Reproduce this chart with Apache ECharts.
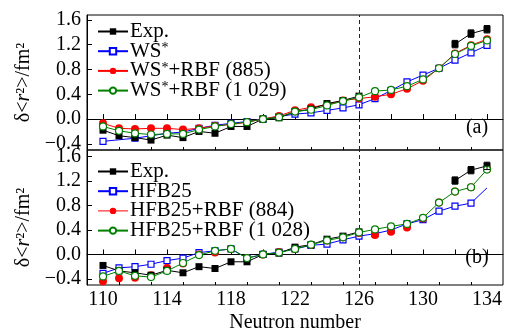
<!DOCTYPE html>
<html>
<head>
<meta charset="utf-8">
<script src="https://cdn.jsdelivr.net/npm/echarts@6/dist/echarts.min.js"></script>
<style>
  html, body { margin: 0; padding: 0; background: #fff; }
  #chart { width: 508px; height: 334px; }
</style>
</head>
<body>
<div id="chart"></div>
<script>
// neutron numbers (x)
const neutrons = [110, 111, 112, 113, 114, 115, 116, 117, 118, 119, 120, 121, 122,
  123, 124, 125, 126, 127, 128, 129, 130, 131, 132, 133, 134]

const xLabelValues = [110, 114, 118, 122, 126, 130, 134]
const xMajorTicks = [110, 112, 114, 116, 118, 120, 122, 124, 126, 128, 130, 132, 134]
const xMinorTicks = [111, 113, 115, 117, 119, 121, 123, 125, 127, 129, 131, 133]
const yTickValues = [-0.4, 0, 0.4, 0.8, 1.2, 1.6]
const shellClosure = 126

// experiment (same in both panels)
const expVals = [-0.18, -0.27, -0.30, -0.34, -0.26, -0.30, -0.20, -0.23, -0.12, -0.12, 0.00, 0.02,
  0.12, 0.16, 0.25, 0.30, 0.37, null, null, null, null, null, 1.21, 1.38, 1.45]
const expErrN = [132, 133, 134]
const expErr = [0.06, 0.06, 0.06]

// panel (a)
const wsVals = [-0.36, null, -0.31, -0.27, -0.23, -0.21, -0.15, -0.10, -0.07, -0.04, 0.00, 0.04,
  0.08, 0.10, 0.14, 0.18, 0.23, 0.33, 0.46, 0.60, 0.71, 0.82, 0.95, 1.07, 1.19]
const ws885Vals = [-0.07, -0.15, -0.16, -0.15, -0.15, -0.17, -0.15, -0.11, -0.09, -0.05, 0.00, 0.05,
  0.14, 0.19, 0.23, 0.30, 0.33, 0.36, 0.40, 0.49, 0.62, 0.82, 1.06, 1.19, 1.29]
const ws1029Vals = [-0.12, -0.19, -0.23, -0.25, -0.24, -0.24, -0.17, -0.12, -0.08, -0.05, 0.00, 0.03,
  0.12, 0.15, 0.22, 0.29, 0.35, 0.45, 0.47, 0.53, 0.64, 0.82, 1.05, 1.18, 1.27]

// panel (b)
const hfbVals = [-0.31, -0.22, -0.20, -0.16, -0.10, -0.06, 0.03, 0.06, 0.09, -0.06, 0.00, 0.04,
  0.09, 0.15, 0.17, 0.24, 0.30, 0.34, 0.40, 0.50, 0.57, 0.71, 0.79, 0.84, 1.09]
const hfb884Vals = [-0.44, -0.39, -0.38, -0.34, -0.22, -0.15, 0.00, 0.03, 0.09, -0.06, 0.00, 0.04,
  0.09, 0.16, 0.23, 0.28, 0.35, 0.32, 0.37, 0.44, 0.59, 0.85, 1.03, 1.10, 1.40]
const hfb1028Vals = [-0.36, -0.27, -0.35, -0.37, -0.27, -0.14, -0.01, 0.06, 0.09, -0.06, 0.00, 0.03,
  0.09, 0.16, 0.23, 0.28, 0.36, 0.41, 0.46, 0.50, 0.60, 0.85, 1.03, 1.10, 1.39]

const FONT = "'Liberation Serif', 'Times New Roman', serif"

const toPairs = (vals) => neutrons.map((n, i) => [n, vals[i] == null ? '-' : vals[i]])

const chart = echarts.init(document.getElementById('chart'))

const xAxisFor = (gridIndex, showLabels) => ([
  {
    type: 'value',
    gridIndex,
    min: 109,
    max: 135,
    position: 'bottom',
    axisLine: { show: true, lineStyle: { color: '#000', width: 1 } },
    axisTick: {
      show: true,
      inside: true,
      length: 5,
      customValues: xMajorTicks,
      lineStyle: { color: '#000', width: 1 },
    },
    axisLabel: {
      show: showLabels,
      customValues: xLabelValues,
      color: '#000',
      fontFamily: FONT,
      fontSize: 20,
      margin: 5,
    },
    splitLine: { show: false },
    name: showLabels ? 'Neutron number' : '',
    nameLocation: 'middle',
    nameGap: 28,
    nameTextStyle: { color: '#000', fontFamily: FONT, fontSize: 20 },
  },
  {
    type: 'value',
    gridIndex,
    min: 109,
    max: 135,
    position: 'bottom',
    axisLine: { show: false },
    axisTick: {
      show: true,
      inside: true,
      length: 3,
      customValues: xMinorTicks,
      lineStyle: { color: '#000', width: 1 },
    },
    axisLabel: { show: false },
    splitLine: { show: false },
  },
])

const yAxisFor = (gridIndex, max, namePad) => ({
  type: 'value',
  gridIndex,
  min: -0.5,
  max,
  axisLine: { show: true, lineStyle: { color: '#000', width: 1 } },
  axisTick: {
    show: true,
    inside: true,
    length: 5,
    customValues: yTickValues,
    lineStyle: { color: '#000', width: 1 },
  },
  axisLabel: {
    customValues: yTickValues,
    color: '#000',
    fontFamily: FONT,
    fontSize: 20,
    margin: 6,
    formatter: (v) => v.toFixed(1).replace('-', '\u2212'),
  },
  splitLine: { show: false },
  name: '{n|δ<}{i|r}{n|²>/fm²}',
  nameLocation: 'middle',
  nameGap: 52,
  nameTextStyle: {
    color: '#000',
    fontFamily: FONT,
    fontSize: 20,
    padding: namePad,
    rich: {
      n: { fontFamily: FONT, fontSize: 20, color: '#000' },
      i: { fontFamily: FONT, fontSize: 20, fontStyle: 'italic', color: '#000' },
    },
  },
})

const lineSeries = (name, vals, xAxisIndex, yAxisIndex, style) => ({
  name,
  type: 'line',
  xAxisIndex,
  yAxisIndex,
  data: toPairs(vals),
  symbol: style.symbol,
  symbolSize: style.size,
  showSymbol: true,
  connectNulls: !!style.connect,
  lineStyle: { color: style.color, width: 1, opacity: style.hideLine ? 0 : 1 },
  itemStyle: {
    color: style.fill,
    borderColor: style.color,
    borderWidth: style.fill === '#fff' ? 1.2 : 0,
  },
  emphasis: { disabled: true },
  animation: false,
  z: style.z || 2,
})

const dashLine = {
  silent: true,
  symbol: 'none',
  label: { show: false },
  lineStyle: { type: [4, 3], color: '#222', width: 1 },
  data: [{ xAxis: shellClosure }],
  animation: false,
}

const errorBars = (xAxisIndex, yAxisIndex) => ({
  type: 'custom',
  xAxisIndex,
  yAxisIndex,
  data: expErrN.map((n, i) => [n, expVals[neutrons.indexOf(n)], expErr[i]]),
  renderItem: (params, api) => {
    const x = api.value(0)
    const y = api.value(1)
    const e = api.value(2)
    const lo = api.coord([x, y - e])
    const hi = api.coord([x, y + e])
    const st = { stroke: '#000', lineWidth: 1 }
    return {
      type: 'group',
      children: [
        { type: 'line', shape: { x1: lo[0], y1: lo[1], x2: hi[0], y2: hi[1] }, style: st },
        { type: 'line', shape: { x1: lo[0] - 3, y1: lo[1], x2: lo[0] + 3, y2: lo[1] }, style: st },
        { type: 'line', shape: { x1: hi[0] - 3, y1: hi[1], x2: hi[0] + 3, y2: hi[1] }, style: st },
      ],
    }
  },
  z: 6,
  animation: false,
})

const supRich = {
  t: { fontFamily: FONT, fontSize: 21, color: '#000', lineHeight: 20 },
  sup: { fontFamily: FONT, fontSize: 14, color: '#000', lineHeight: 12, verticalAlign: 'top' },
}
// '*' becomes a superscript
const legendFormatter = (name) =>
  name
    .split('*')
    .map((p) => (p ? '{t|' + p + '}' : ''))
    .join('{sup|*}')

const legendFor = (top, names, hiddenLineName) => ({
  orient: 'vertical',
  left: 97,
  top,
  itemWidth: 30,
  itemHeight: 8,
  itemGap: -1.3,
  padding: 0,
  selectedMode: false,
  data: names.map((n) =>
    n === hiddenLineName ? { name: n, lineStyle: { opacity: 1, color: '#f00', width: 1 } } : n
  ),
  formatter: legendFormatter,
  textStyle: { fontFamily: FONT, fontSize: 21, color: '#000', lineHeight: 20, rich: supRich, padding: [0, 0, 0, -3] },
})

const black = { symbol: 'rect', size: 7, color: '#000', fill: '#000', z: 4 }
const blue = { symbol: 'rect', size: 6, color: '#0000ff', fill: '#fff', z: 3 }
const red = { symbol: 'circle', size: 8, color: '#ff0000', fill: '#ff0000', z: 3 }
const green = { symbol: 'circle', size: 7, color: '#008000', fill: '#fff', z: 5 }

const hfbSeries = lineSeries('HFB25', hfbVals, 2, 1, blue)
hfbSeries.data[hfbSeries.data.length - 1] = {
  value: hfbSeries.data[hfbSeries.data.length - 1],
  symbol: 'none',
}

const expA = lineSeries('Exp.', expVals, 0, 0, black)
expA.markLine = dashLine
const expB = lineSeries('Exp.', expVals, 2, 1, black)
expB.markLine = dashLine

const option = {
  backgroundColor: '#fff',
  animation: false,
  grid: [
    { left: 87, right: 5, top: 15, height: 135, show: true, borderColor: '#000', borderWidth: 1, backgroundColor: 'transparent' },
    { left: 87, right: 5, top: 150, height: 135, show: true, borderColor: '#000', borderWidth: 1, backgroundColor: 'transparent' },
  ],
  xAxis: [...xAxisFor(0, false), ...xAxisFor(1, true)],
  yAxis: [yAxisFor(0, 1.68, 0), yAxisFor(1, 1.71, [0, 20, 0, 0])],
  legend: [
    legendFor(21, ['Exp.', 'WS*', 'WS*+RBF (885)', 'WS*+RBF (1 029)']),
    legendFor(161, ['Exp.', 'HFB25', 'HFB25+RBF (884)', 'HFB25+RBF (1 028)'], 'HFB25+RBF (884)'),
  ],
  graphic: [
    { type: 'text', x: 477, y: 128, style: { text: '(a)', font: '20px ' + FONT, fill: '#000', textAlign: 'center', textVerticalAlign: 'middle' } },
    { type: 'text', x: 477, y: 258, style: { text: '(b)', font: '20px ' + FONT, fill: '#000', textAlign: 'center', textVerticalAlign: 'middle' } },
  ],
  series: [
    expA,
    lineSeries('WS*', wsVals, 0, 0, Object.assign({ connect: true }, blue)),
    lineSeries('WS*+RBF (885)', ws885Vals, 0, 0, red),
    lineSeries('WS*+RBF (1 029)', ws1029Vals, 0, 0, green),
    errorBars(0, 0),
    expB,
    hfbSeries,
    lineSeries('HFB25+RBF (884)', hfb884Vals, 2, 1, Object.assign({ hideLine: true }, red)),
    lineSeries('HFB25+RBF (1 028)', hfb1028Vals, 2, 1, green),
    errorBars(2, 1),
  ],
}

chart.setOption(option)
</script>
</body>
</html>
